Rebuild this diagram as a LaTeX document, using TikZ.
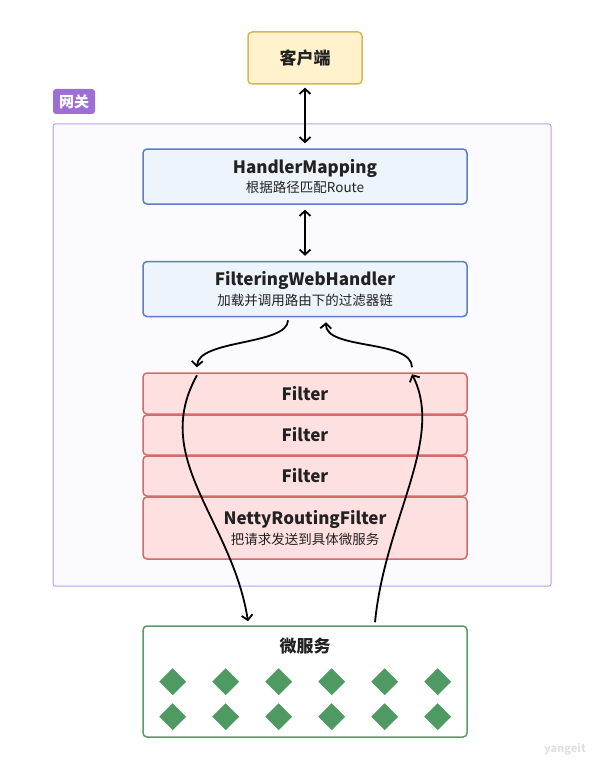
\documentclass[tikz,border=0pt]{standalone}
\usepackage{fontspec}
\setmainfont{Noto Sans CJK SC}
\usepackage{tikz}
\usetikzlibrary{arrows.meta,shapes.geometric}
\usepackage{xcolor}

\definecolor{clientfill}{HTML}{FFF2CC}
\definecolor{clientline}{HTML}{D6B656}
\definecolor{gwfill}{HTML}{FAFAFF}
\definecolor{gwline}{HTML}{B9A0E3}
\definecolor{tagfill}{HTML}{9D6FD6}
\definecolor{hfill}{HTML}{EEF4FC}
\definecolor{hline}{HTML}{5B7FC7}
\definecolor{ffill}{HTML}{FFE0E0}
\definecolor{fline}{HTML}{D46A6A}
\definecolor{msline}{HTML}{5A9A6A}
\definecolor{svcfill}{HTML}{4E9A62}
\definecolor{inkcol}{HTML}{222222}

\newcommand{\ttl}{\fontsize{17}{20}\selectfont\bfseries}
\newcommand{\sub}{\fontsize{13.5}{16}\selectfont}

\tikzset{
  box/.style={draw, rounded corners=4pt, line width=1.5pt, align=center, text=inkcol, inner sep=0pt},
  handler/.style={box, fill=hfill, draw=hline, minimum width=324, minimum height=55},
  filter/.style={box, fill=ffill, draw=fline, minimum width=324},
  svc/.style={diamond, fill=svcfill, inner sep=0pt, minimum width=27, minimum height=27},
  dbl/.style={<->, line width=1.8pt},
  flow/.style={->, line width=1.8pt},
}

\begin{document}
\begin{tikzpicture}[x=1pt, y=-1pt, >={Straight Barb[length=5pt,width=11pt]}]
    \useasboundingbox (0,0) rectangle (598,765);

    % gateway
    \node[draw=gwline, fill=gwfill, line width=1pt, rounded corners=2pt, minimum width=498, minimum height=462] (gw) at (302,355) {};
    \node[fill=tagfill, rounded corners=3pt, text=white, font=\fontsize{15}{18}\selectfont\bfseries, minimum width=42, minimum height=25, inner sep=0pt] (gwtag) at (74,101.5) {网关};

    \node[box, fill=clientfill, draw=clientline, minimum width=114, minimum height=52] (client) at (305,58) {\ttl 客户端};

    \node[handler] (hm) at (305,176.5) {\ttl HandlerMapping\\[3pt]\sub 根据路径匹配Route};
    \node[handler] (fwh) at (305,289) {\ttl FilteringWebHandler\\[3pt]\sub 加载并调用路由下的过滤器链};

    \node[filter, minimum height=41] (f1) at (305,393.5) {\ttl Filter};
    \node[filter, minimum height=40] (f2) at (305,435) {\ttl Filter};
    \node[filter, minimum height=40] (f3) at (305,476) {\ttl Filter};
    \node[filter, minimum height=62] (nrf) at (305,528) {\ttl NettyRoutingFilter\\[3pt]\sub 把请求发送到具体微服务};

    % services
    \node[box, fill=white, draw=msline, minimum width=324, minimum height=111] (ms) at (305,681.5) {};
    \node[text=inkcol] (mstitle) at (305,646) {\ttl 微服务};
    \foreach \i in {0,...,5}
        \foreach \j in {0,1}
            \node[svc] (s\i\j) at (172.7+53*\i, 681.7+35*\j) {};

    \node[text=black!12, font=\fontsize{11}{13}\selectfont\bfseries] (mark) at (565,749) {yangeit};

    \draw[dbl, shorten <=3pt, shorten >=5pt] (client) -- (hm);
    \draw[dbl, shorten <=5pt, shorten >=5pt] (hm) -- (fwh);

    \coordinate (outA) at ([shift={(-17,3)}]fwh.south);
    \coordinate (inA) at ([shift={(-108,-5)}]f1.north);
    \coordinate (outB) at ([shift={(-108,3)}]f1.north);
    \coordinate (inB) at ([shift={(-57,-4)}]ms.north);
    \coordinate (outC) at ([shift={(70,-3)}]ms.north);
    \coordinate (inC) at ([shift={(107,2)}]f1.north);
    \coordinate (outD) at ([shift={(107,-5)}]f1.north);
    \coordinate (inD) at ([shift={(21,5)}]fwh.south);

    \draw[flow] (outA) .. controls +(0,25) and +(1,-28) .. (inA);
    \draw[flow] (outB) .. controls +(-47,84) and +(-16,-102) .. (inB);
    \draw[flow] (outC) .. controls +(10,-103) and +(33,65) .. (inC);
    \draw[flow] (outD) .. controls +(0,-28) and +(-1,28) .. (inD);
\end{tikzpicture}
\end{document}
